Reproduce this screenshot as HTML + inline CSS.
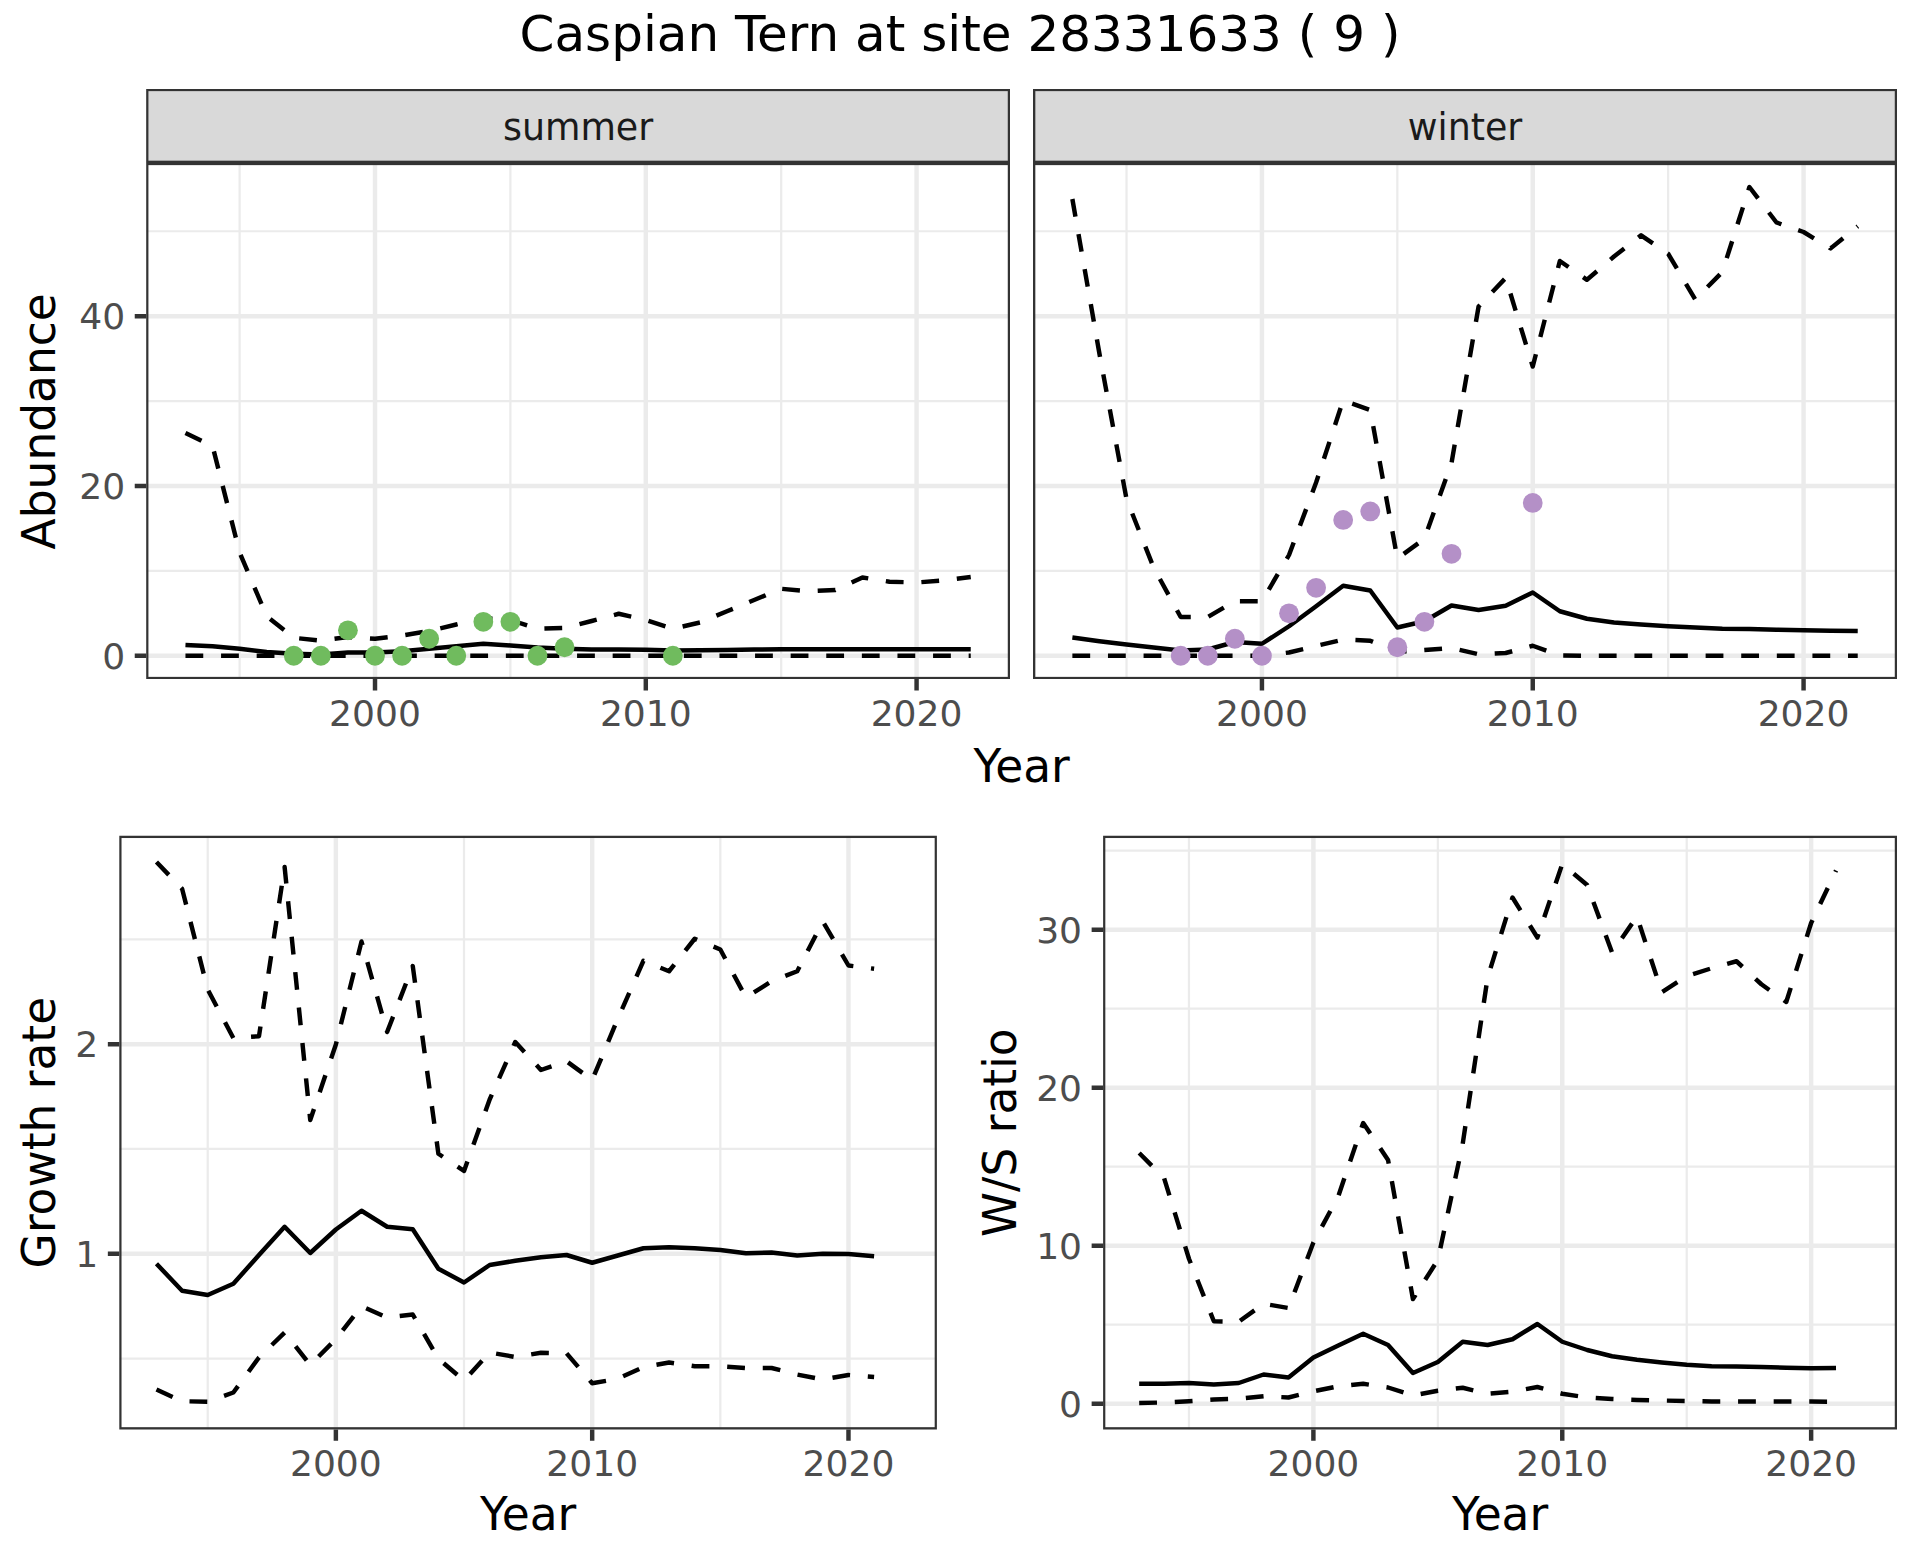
<!DOCTYPE html>
<html lang="en"><head><meta charset="utf-8"><title>Caspian Tern at site 28331633 ( 9 )</title>
<style>html,body{margin:0;padding:0;background:#fff}body{width:1920px;height:1560px;overflow:hidden}svg text{font-family:"DejaVu Sans", "Liberation Sans", sans-serif}</style></head>
<body>
<svg width="1920" height="1560" viewBox="0 0 1920 1560" style="display:block">
<rect x="0" y="0" width="1920" height="1560" fill="#fff"/>
<g font-family='"DejaVu Sans", "Liberation Sans", sans-serif'>
<text x="960" y="51.25" text-anchor="middle" font-size="50" fill="#000">Caspian Tern at site 28331633 ( 9 )</text>
<clipPath id="s0"><rect x="146.20" y="88.90" width="863.80" height="74.00"/></clipPath>
<rect x="146.20" y="88.90" width="863.80" height="74.00" fill="#D9D9D9" stroke="#333333" stroke-width="4.45" clip-path="url(#s0)"/>
<text x="578.10" y="139.6" text-anchor="middle" font-size="36.4" fill="#1A1A1A">summer</text>
<clipPath id="s1"><rect x="1033.10" y="88.90" width="863.90" height="74.00"/></clipPath>
<rect x="1033.10" y="88.90" width="863.90" height="74.00" fill="#D9D9D9" stroke="#333333" stroke-width="4.45" clip-path="url(#s1)"/>
<text x="1465.05" y="139.6" text-anchor="middle" font-size="36.4" fill="#1A1A1A">winter</text>
<clipPath id="c1"><rect x="146.20" y="162.90" width="863.80" height="516.20"/></clipPath>
<g clip-path="url(#c1)">
<rect x="146.20" y="162.90" width="863.80" height="516.20" fill="#fff"/>
<path d="M146.20,570.85H1010.00M146.20,401.05H1010.00M146.20,231.25H1010.00M239.62,162.90V679.10M510.40,162.90V679.10M781.19,162.90V679.10" stroke="#EBEBEB" stroke-width="2.23" fill="none"/>
<path d="M146.20,655.75H1010.00M146.20,485.95H1010.00M146.20,316.15H1010.00M375.01,162.90V679.10M645.80,162.90V679.10M916.58,162.90V679.10" stroke="#EBEBEB" stroke-width="4.45" fill="none"/>
<path d="M185.46,655.75 L212.54,655.75 L239.62,655.75 L266.70,655.75 L293.78,655.75 L320.86,655.75 L347.93,655.75 L375.01,655.75 L402.09,655.75 L429.17,655.75 L456.25,655.75 L483.33,655.75 L510.40,655.75 L537.48,655.75 L564.56,655.75 L591.64,655.75 L618.72,655.75 L645.80,655.75 L672.87,655.75 L699.95,655.75 L727.03,655.75 L754.11,655.75 L781.19,655.75 L808.27,655.75 L835.34,655.75 L862.42,655.75 L889.50,655.75 L916.58,655.75 L943.66,655.75 L970.74,655.75" stroke="#000" stroke-width="4.45" fill="none" stroke-linejoin="round" stroke-linecap="butt" stroke-dasharray="17.80 17.80"/>
<path d="M185.46,433.00 L212.54,446.00 L239.62,552.50 L266.70,616.20 L293.78,637.80 L320.86,640.60 L347.93,637.00 L375.01,638.75 L402.09,635.50 L429.17,631.00 L456.25,624.50 L483.33,618.00 L510.40,620.00 L537.48,628.75 L564.56,628.00 L591.64,621.00 L618.72,613.75 L645.80,620.00 L672.87,628.75 L699.95,622.50 L727.03,611.25 L754.11,600.00 L781.19,588.75 L808.27,591.25 L835.34,590.00 L862.42,577.50 L889.50,581.75 L916.58,582.50 L943.66,580.50 L970.74,577.00" stroke="#000" stroke-width="4.45" fill="none" stroke-linejoin="round" stroke-linecap="butt" stroke-dasharray="17.80 17.80"/>
<path d="M185.46,645.00 L212.54,646.25 L239.62,648.75 L266.70,652.00 L293.78,653.75 L320.86,654.50 L347.93,652.50 L375.01,652.50 L402.09,651.25 L429.17,648.75 L456.25,646.25 L483.33,643.75 L510.40,645.50 L537.48,647.50 L564.56,648.75 L591.64,649.50 L618.72,649.50 L645.80,649.75 L672.87,650.50 L699.95,650.25 L727.03,650.00 L754.11,649.50 L781.19,649.25 L808.27,649.25 L835.34,649.25 L862.42,649.25 L889.50,649.25 L916.58,649.25 L943.66,649.25 L970.74,649.25" stroke="#000" stroke-width="4.45" fill="none" stroke-linejoin="round" stroke-linecap="butt"/>
<circle cx="293.78" cy="655.75" r="9.90" fill="#70BB5E"/>
<circle cx="320.86" cy="655.75" r="9.90" fill="#70BB5E"/>
<circle cx="347.93" cy="630.28" r="9.90" fill="#70BB5E"/>
<circle cx="375.01" cy="655.75" r="9.90" fill="#70BB5E"/>
<circle cx="402.09" cy="655.75" r="9.90" fill="#70BB5E"/>
<circle cx="429.17" cy="638.77" r="9.90" fill="#70BB5E"/>
<circle cx="456.25" cy="655.75" r="9.90" fill="#70BB5E"/>
<circle cx="483.33" cy="621.79" r="9.90" fill="#70BB5E"/>
<circle cx="510.40" cy="621.79" r="9.90" fill="#70BB5E"/>
<circle cx="537.48" cy="655.75" r="9.90" fill="#70BB5E"/>
<circle cx="564.56" cy="647.26" r="9.90" fill="#70BB5E"/>
<circle cx="672.87" cy="655.75" r="9.90" fill="#70BB5E"/>
<rect x="146.20" y="162.90" width="863.80" height="516.20" fill="none" stroke="#333333" stroke-width="4.45"/>
</g>
<path d="M375.01,679.10v11.46M645.80,679.10v11.46M916.58,679.10v11.46" stroke="#333333" stroke-width="4.45" fill="none"/>
<text x="375.01" y="725.93" text-anchor="middle" font-size="36.1" fill="#4D4D4D">2000</text>
<text x="645.80" y="725.93" text-anchor="middle" font-size="36.1" fill="#4D4D4D">2010</text>
<text x="916.58" y="725.93" text-anchor="middle" font-size="36.1" fill="#4D4D4D">2020</text>
<clipPath id="c2"><rect x="1033.10" y="162.90" width="863.90" height="516.20"/></clipPath>
<g clip-path="url(#c2)">
<rect x="1033.10" y="162.90" width="863.90" height="516.20" fill="#fff"/>
<path d="M1033.10,570.85H1897.00M1033.10,401.05H1897.00M1033.10,231.25H1897.00M1126.53,162.90V679.10M1397.35,162.90V679.10M1668.16,162.90V679.10" stroke="#EBEBEB" stroke-width="2.23" fill="none"/>
<path d="M1033.10,655.75H1897.00M1033.10,485.95H1897.00M1033.10,316.15H1897.00M1261.94,162.90V679.10M1532.75,162.90V679.10M1803.57,162.90V679.10" stroke="#EBEBEB" stroke-width="4.45" fill="none"/>
<path d="M1072.37,655.75 L1099.45,655.75 L1126.53,655.75 L1153.61,655.75 L1180.69,655.75 L1207.78,655.75 L1234.86,655.75 L1261.94,655.75 L1289.02,652.50 L1316.10,646.00 L1343.18,639.50 L1370.26,640.75 L1397.35,652.00 L1424.43,650.00 L1451.51,648.00 L1478.59,654.25 L1505.67,653.00 L1532.75,645.75 L1559.84,655.50 L1586.92,655.75 L1614.00,655.75 L1641.08,655.75 L1668.16,655.75 L1695.24,655.75 L1722.32,655.75 L1749.41,655.75 L1776.49,655.75 L1803.57,655.75 L1830.65,655.75 L1857.73,655.75" stroke="#000" stroke-width="4.45" fill="none" stroke-linejoin="round" stroke-linecap="butt" stroke-dasharray="17.80 17.80"/>
<path d="M1072.37,199.00 L1099.45,353.75 L1126.53,499.00 L1153.61,567.50 L1180.69,617.00 L1207.78,617.00 L1234.86,601.25 L1261.94,601.25 L1289.02,555.00 L1316.10,482.50 L1343.18,400.30 L1370.26,410.00 L1397.35,558.50 L1424.43,538.75 L1451.51,463.00 L1478.59,306.50 L1505.67,278.00 L1532.75,366.50 L1559.84,261.00 L1586.92,279.80 L1614.00,256.50 L1641.08,235.30 L1668.16,253.75 L1695.24,299.40 L1722.32,272.00 L1749.41,187.00 L1776.49,222.50 L1803.57,232.00 L1830.65,248.40 L1857.73,226.30" stroke="#000" stroke-width="4.45" fill="none" stroke-linejoin="round" stroke-linecap="butt" stroke-dasharray="17.80 17.80"/>
<path d="M1072.37,637.50 L1099.45,641.25 L1126.53,644.50 L1153.61,647.50 L1180.69,650.50 L1207.78,649.50 L1234.86,642.00 L1261.94,643.75 L1289.02,626.25 L1316.10,606.25 L1343.18,585.75 L1370.26,590.50 L1397.35,627.50 L1424.43,621.25 L1451.51,605.50 L1478.59,610.00 L1505.67,605.75 L1532.75,592.50 L1559.84,611.25 L1586.92,618.75 L1614.00,622.50 L1641.08,624.50 L1668.16,626.25 L1695.24,627.50 L1722.32,628.75 L1749.41,629.00 L1776.49,629.75 L1803.57,630.25 L1830.65,630.75 L1857.73,631.00" stroke="#000" stroke-width="4.45" fill="none" stroke-linejoin="round" stroke-linecap="butt"/>
<circle cx="1180.69" cy="655.75" r="9.90" fill="#B490C7"/>
<circle cx="1207.78" cy="655.75" r="9.90" fill="#B490C7"/>
<circle cx="1234.86" cy="638.77" r="9.90" fill="#B490C7"/>
<circle cx="1261.94" cy="655.75" r="9.90" fill="#B490C7"/>
<circle cx="1289.02" cy="613.30" r="9.90" fill="#B490C7"/>
<circle cx="1316.10" cy="587.83" r="9.90" fill="#B490C7"/>
<circle cx="1343.18" cy="519.91" r="9.90" fill="#B490C7"/>
<circle cx="1370.26" cy="511.42" r="9.90" fill="#B490C7"/>
<circle cx="1397.35" cy="647.26" r="9.90" fill="#B490C7"/>
<circle cx="1424.43" cy="621.79" r="9.90" fill="#B490C7"/>
<circle cx="1451.51" cy="553.87" r="9.90" fill="#B490C7"/>
<circle cx="1532.75" cy="502.93" r="9.90" fill="#B490C7"/>
<rect x="1033.10" y="162.90" width="863.90" height="516.20" fill="none" stroke="#333333" stroke-width="4.45"/>
</g>
<path d="M1261.94,679.10v11.46M1532.75,679.10v11.46M1803.57,679.10v11.46" stroke="#333333" stroke-width="4.45" fill="none"/>
<text x="1261.94" y="725.93" text-anchor="middle" font-size="36.1" fill="#4D4D4D">2000</text>
<text x="1532.75" y="725.93" text-anchor="middle" font-size="36.1" fill="#4D4D4D">2010</text>
<text x="1803.57" y="725.93" text-anchor="middle" font-size="36.1" fill="#4D4D4D">2020</text>
<path d="M146.20,655.75h-11.46M146.20,485.95h-11.46M146.20,316.15h-11.46" stroke="#333333" stroke-width="4.45" fill="none"/>
<text x="125.17" y="668.55" text-anchor="end" font-size="36.1" fill="#4D4D4D">0</text>
<text x="125.17" y="498.75" text-anchor="end" font-size="36.1" fill="#4D4D4D">20</text>
<text x="125.17" y="328.95" text-anchor="end" font-size="36.1" fill="#4D4D4D">40</text>
<clipPath id="c3"><rect x="119.30" y="835.80" width="817.60" height="593.60"/></clipPath>
<g clip-path="url(#c3)">
<rect x="119.30" y="835.80" width="817.60" height="593.60" fill="#fff"/>
<path d="M119.30,1358.55H936.90M119.30,1148.95H936.90M119.30,939.35H936.90M207.72,835.80V1429.40M464.02,835.80V1429.40M720.33,835.80V1429.40" stroke="#EBEBEB" stroke-width="2.23" fill="none"/>
<path d="M119.30,1253.75H936.90M119.30,1044.15H936.90M335.87,835.80V1429.40M592.18,835.80V1429.40M848.48,835.80V1429.40" stroke="#EBEBEB" stroke-width="4.45" fill="none"/>
<path d="M156.46,1389.50 L182.09,1401.25 L207.72,1401.75 L233.35,1392.50 L258.98,1357.50 L284.61,1332.50 L310.24,1365.00 L335.87,1339.00 L361.50,1306.25 L387.13,1317.50 L412.76,1314.50 L438.39,1358.75 L464.02,1380.50 L489.65,1352.50 L515.28,1357.00 L540.92,1352.75 L566.55,1353.25 L592.18,1383.25 L617.81,1378.75 L643.44,1367.00 L669.07,1362.50 L694.70,1366.25 L720.33,1366.25 L745.96,1368.00 L771.59,1368.00 L797.22,1374.50 L822.85,1379.50 L848.48,1375.00 L874.11,1377.00" stroke="#000" stroke-width="4.45" fill="none" stroke-linejoin="round" stroke-linecap="butt" stroke-dasharray="17.80 17.80"/>
<path d="M156.46,862.00 L182.09,888.75 L207.72,989.50 L233.35,1038.00 L258.98,1036.25 L284.61,867.00 L310.24,1120.00 L335.87,1044.50 L361.50,941.50 L387.13,1032.00 L412.76,966.00 L438.39,1153.75 L464.02,1171.00 L489.65,1099.50 L515.28,1042.00 L540.92,1070.00 L566.55,1061.25 L592.18,1080.00 L617.81,1018.75 L643.44,960.75 L669.07,971.25 L694.70,938.75 L720.33,949.50 L745.96,997.50 L771.59,981.25 L797.22,971.25 L822.85,921.50 L848.48,965.50 L874.11,968.75" stroke="#000" stroke-width="4.45" fill="none" stroke-linejoin="round" stroke-linecap="butt" stroke-dasharray="17.80 17.80"/>
<path d="M156.46,1263.75 L182.09,1290.75 L207.72,1295.00 L233.35,1283.75 L258.98,1255.00 L284.61,1226.75 L310.24,1253.00 L335.87,1229.50 L361.50,1210.75 L387.13,1226.75 L412.76,1229.25 L438.39,1268.75 L464.02,1282.50 L489.65,1265.00 L515.28,1260.75 L540.92,1257.25 L566.55,1255.00 L592.18,1262.75 L617.81,1255.50 L643.44,1248.25 L669.07,1247.25 L694.70,1248.25 L720.33,1250.00 L745.96,1253.25 L771.59,1252.50 L797.22,1255.50 L822.85,1253.75 L848.48,1254.00 L874.11,1256.25" stroke="#000" stroke-width="4.45" fill="none" stroke-linejoin="round" stroke-linecap="butt"/>
<rect x="119.30" y="835.80" width="817.60" height="593.60" fill="none" stroke="#333333" stroke-width="4.45"/>
</g>
<path d="M335.87,1429.40v11.46M592.18,1429.40v11.46M848.48,1429.40v11.46" stroke="#333333" stroke-width="4.45" fill="none"/>
<text x="335.87" y="1476.23" text-anchor="middle" font-size="36.1" fill="#4D4D4D">2000</text>
<text x="592.18" y="1476.23" text-anchor="middle" font-size="36.1" fill="#4D4D4D">2010</text>
<text x="848.48" y="1476.23" text-anchor="middle" font-size="36.1" fill="#4D4D4D">2020</text>
<path d="M119.30,1253.75h-11.46M119.30,1044.15h-11.46" stroke="#333333" stroke-width="4.45" fill="none"/>
<text x="98.27" y="1266.55" text-anchor="end" font-size="36.1" fill="#4D4D4D">1</text>
<text x="98.27" y="1056.95" text-anchor="end" font-size="36.1" fill="#4D4D4D">2</text>
<clipPath id="c4"><rect x="1103.10" y="835.80" width="793.90" height="593.60"/></clipPath>
<g clip-path="url(#c4)">
<rect x="1103.10" y="835.80" width="793.90" height="593.60" fill="#fff"/>
<path d="M1103.10,1324.70H1897.00M1103.10,1166.70H1897.00M1103.10,1008.70H1897.00M1103.10,850.70H1897.00M1188.96,835.80V1429.40M1437.83,835.80V1429.40M1686.70,835.80V1429.40" stroke="#EBEBEB" stroke-width="2.23" fill="none"/>
<path d="M1103.10,1403.70H1897.00M1103.10,1245.70H1897.00M1103.10,1087.70H1897.00M1103.10,929.70H1897.00M1313.40,835.80V1429.40M1562.27,835.80V1429.40M1811.14,835.80V1429.40" stroke="#EBEBEB" stroke-width="4.45" fill="none"/>
<path d="M1139.19,1403.00 L1164.07,1402.50 L1188.96,1401.25 L1213.85,1399.50 L1238.73,1398.75 L1263.62,1396.25 L1288.51,1397.50 L1313.40,1391.25 L1338.28,1386.25 L1363.17,1383.75 L1388.06,1387.50 L1412.94,1395.50 L1437.83,1390.75 L1462.72,1387.75 L1487.61,1393.75 L1512.49,1391.75 L1537.38,1387.00 L1562.27,1393.75 L1587.16,1397.50 L1612.04,1399.00 L1636.93,1400.00 L1661.82,1400.50 L1686.70,1401.00 L1711.59,1401.50 L1736.48,1401.50 L1761.37,1401.50 L1786.25,1401.50 L1811.14,1401.50 L1836.03,1401.75" stroke="#000" stroke-width="4.45" fill="none" stroke-linejoin="round" stroke-linecap="butt" stroke-dasharray="17.80 17.80"/>
<path d="M1139.19,1153.00 L1164.07,1178.00 L1188.96,1258.75 L1213.85,1321.25 L1238.73,1321.75 L1263.62,1303.75 L1288.51,1308.00 L1313.40,1242.50 L1338.28,1196.25 L1363.17,1123.00 L1388.06,1160.00 L1412.94,1299.00 L1437.83,1260.00 L1462.72,1143.75 L1487.61,977.50 L1512.49,897.50 L1537.38,937.50 L1562.27,864.00 L1587.16,885.00 L1612.04,952.50 L1636.93,916.50 L1661.82,992.20 L1686.70,976.25 L1711.59,968.25 L1736.48,961.25 L1761.37,984.25 L1786.25,1002.00 L1811.14,923.00 L1836.03,870.50" stroke="#000" stroke-width="4.45" fill="none" stroke-linejoin="round" stroke-linecap="butt" stroke-dasharray="17.80 17.80"/>
<path d="M1139.19,1383.75 L1164.07,1383.75 L1188.96,1383.00 L1213.85,1384.50 L1238.73,1383.00 L1263.62,1374.50 L1288.51,1377.50 L1313.40,1357.50 L1338.28,1345.50 L1363.17,1333.75 L1388.06,1345.00 L1412.94,1373.00 L1437.83,1362.00 L1462.72,1341.75 L1487.61,1345.00 L1512.49,1339.25 L1537.38,1324.00 L1562.27,1341.75 L1587.16,1350.00 L1612.04,1356.25 L1636.93,1359.75 L1661.82,1362.50 L1686.70,1364.75 L1711.59,1366.25 L1736.48,1366.50 L1761.37,1367.00 L1786.25,1367.75 L1811.14,1368.25 L1836.03,1368.00" stroke="#000" stroke-width="4.45" fill="none" stroke-linejoin="round" stroke-linecap="butt"/>
<rect x="1103.10" y="835.80" width="793.90" height="593.60" fill="none" stroke="#333333" stroke-width="4.45"/>
</g>
<path d="M1313.40,1429.40v11.46M1562.27,1429.40v11.46M1811.14,1429.40v11.46" stroke="#333333" stroke-width="4.45" fill="none"/>
<text x="1313.40" y="1476.23" text-anchor="middle" font-size="36.1" fill="#4D4D4D">2000</text>
<text x="1562.27" y="1476.23" text-anchor="middle" font-size="36.1" fill="#4D4D4D">2010</text>
<text x="1811.14" y="1476.23" text-anchor="middle" font-size="36.1" fill="#4D4D4D">2020</text>
<path d="M1103.10,1403.70h-11.46M1103.10,1245.70h-11.46M1103.10,1087.70h-11.46M1103.10,929.70h-11.46" stroke="#333333" stroke-width="4.45" fill="none"/>
<text x="1082.07" y="1416.50" text-anchor="end" font-size="36.1" fill="#4D4D4D">0</text>
<text x="1082.07" y="1258.50" text-anchor="end" font-size="36.1" fill="#4D4D4D">10</text>
<text x="1082.07" y="1100.50" text-anchor="end" font-size="36.1" fill="#4D4D4D">20</text>
<text x="1082.07" y="942.50" text-anchor="end" font-size="36.1" fill="#4D4D4D">30</text>
<text x="1021.6" y="782" text-anchor="middle" font-size="45.5" fill="#000">Year</text>
<text x="528.10" y="1530" text-anchor="middle" font-size="45.5" fill="#000">Year</text>
<text x="1500.05" y="1530" text-anchor="middle" font-size="45.5" fill="#000">Year</text>
<text transform="translate(55.4,421.3) rotate(-90)" text-anchor="middle" font-size="45.5" fill="#000">Abundance</text>
<text transform="translate(55.4,1132.6) rotate(-90)" text-anchor="middle" font-size="45.5" fill="#000">Growth rate</text>
<text transform="translate(1016.2,1132.6) rotate(-90)" text-anchor="middle" font-size="45.5" fill="#000">W/S ratio</text>
</g>
</svg>
</body></html>
